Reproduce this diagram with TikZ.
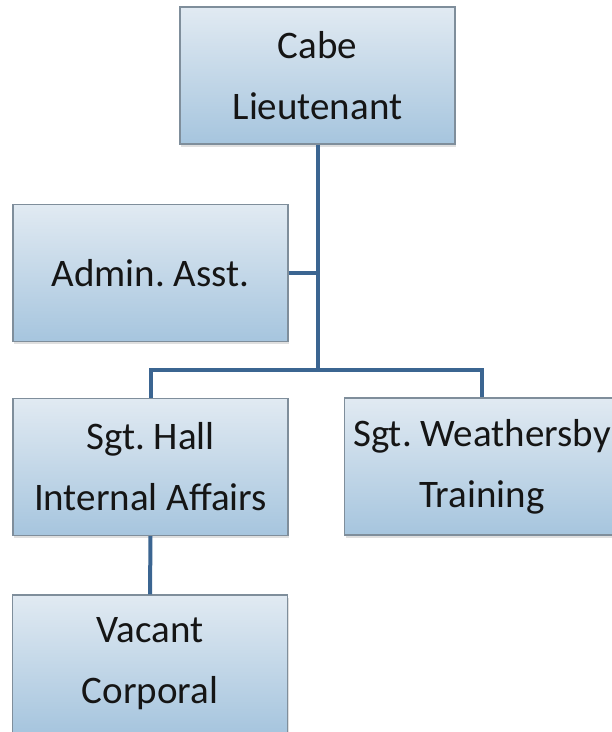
\documentclass[tikz,border=0pt]{standalone}
\usepackage{fontspec}
\setmainfont{Carlito}
\usepackage{tikz}
\usetikzlibrary{calc}
\usetikzlibrary{shadows}
\frenchspacing

\definecolor{boxtop}{HTML}{E1EAF2}
\definecolor{boxbottom}{HTML}{A6C5DE}
\definecolor{boxline}{HTML}{7F8E9B}
\definecolor{linkblue}{HTML}{3B6591}
\definecolor{labeltext}{HTML}{151515}

\tikzset{
  post/.style={rectangle, draw=boxline, line width=1.2pt, top color=boxtop, bottom color=boxbottom,
    minimum width=275pt, minimum height=137pt, inner sep=0pt, align=center, text=labeltext,
    font=\fontsize{39}{61}\selectfont,
    drop shadow={opacity=0.25, shadow xshift=1pt, shadow yshift=-2.5pt}},
  link/.style={draw=linkblue, line width=4pt}
}

\begin{document}
\begin{tikzpicture}[x=1pt, y=-1pt]
\useasboundingbox (0, 0) rectangle (612, 732);
\clip (0, 0) rectangle (612, 732);
\node [post] (lt) at (317.5, 75.5) {Cabe\\Lieutenant};
\node [post] (admin) at (150.5, 273) {Admin. Asst.};
\node [post] (hall) at (150.5, 467) {Sgt. Hall\\Internal Affairs};
\node [post] (wby) at (482, 466.5) {Sgt. Weathersby\\Training};
\node [post, minimum height=138pt] (vac) at (150, 664) {Vacant\\Corporal};
\coordinate (jn) at (317.5, 370);
\draw [link] (lt.south) -- (jn);
\draw [link] (admin.east) -- (admin.east -| jn);
\draw [link] (hall.north) |- (jn) -| (wby.north);
\draw [link] (hall.south) -- (vac.north);
\end{tikzpicture}
\end{document}
